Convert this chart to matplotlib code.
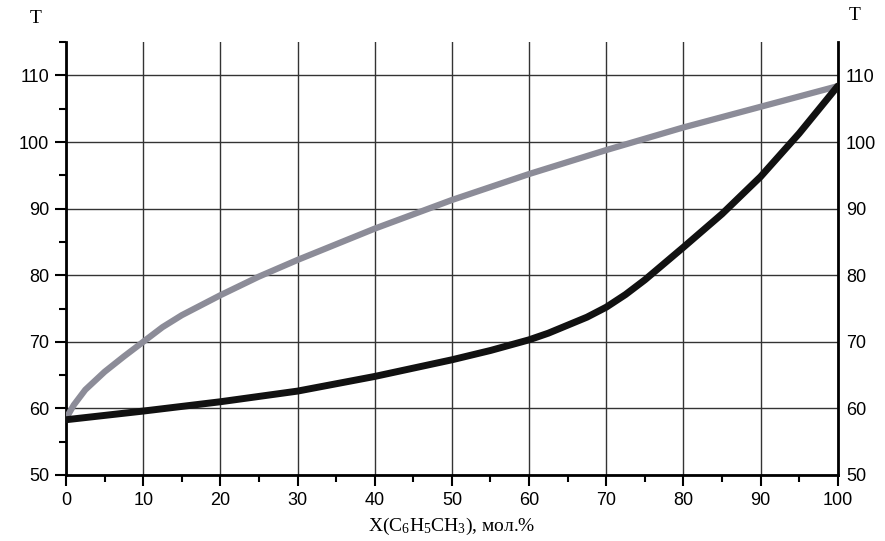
import numpy as np
import matplotlib.pyplot as plt
from matplotlib.ticker import MultipleLocator

plt.rcParams['mathtext.fontset'] = 'custom'
plt.rcParams['mathtext.rm'] = 'Liberation Serif'
plt.rcParams['mathtext.it'] = 'Liberation Serif'

# vapour curve (grey) and liquid curve (black)
x_vap = [0, 1, 2.5, 5, 7.5, 10, 12.5, 15, 20, 25, 30, 40, 50, 60, 70, 80, 90, 100]
t_vap = [58.5, 60.5, 62.8, 65.5, 67.8, 70.0, 72.2, 74.0, 77.0, 79.8, 82.3,
         87.0, 91.3, 95.2, 98.8, 102.2, 105.3, 108.4]
x_liq = [0, 10, 20, 30, 40, 50, 55, 60, 62.5, 65, 67.5, 70, 72.5, 75, 80,
         85, 90, 95, 100]
t_liq = [58.3, 59.6, 61.0, 62.6, 64.8, 67.3, 68.7, 70.3, 71.3, 72.5, 73.7,
         75.2, 77.1, 79.3, 84.2, 89.2, 94.8, 101.3, 108.4]

xticks = [0, 10, 20, 30, 40, 50, 60, 70, 80, 90, 100]
yticks = [50, 60, 70, 80, 90, 100, 110]

fig = plt.figure(figsize=(8.85, 5.41), dpi=100)
ax = fig.add_axes([0.0746, 0.122, 0.872, 0.80])

ax.plot(x_vap, t_vap, color='#8c8c98', lw=4.5, solid_capstyle='round',
        solid_joinstyle='round', zorder=3)
ax.plot(x_liq, t_liq, color='#111111', lw=5, solid_capstyle='round',
        solid_joinstyle='round', zorder=4)

ax.set_xlim(0, 100)
ax.set_ylim(50, 115)
ax.set_xticks(xticks)
ax.set_yticks(yticks)
ax.xaxis.set_minor_locator(MultipleLocator(5))
ax.yaxis.set_minor_locator(MultipleLocator(5))
ax.grid(True, which='major', color='#333333', lw=1.0)
ax.spines['top'].set_visible(False)
for s in ['left', 'right', 'bottom']:
    ax.spines[s].set_linewidth(2)
ax.tick_params(axis='both', which='major', direction='out', length=8, width=1.5,
               labelsize=13, pad=4)
ax.tick_params(axis='both', which='minor', direction='out', length=5, width=1.5)
for lab in ax.get_xticklabels() + ax.get_yticklabels():
    lab.set_fontfamily('Liberation Sans')

ax2 = ax.twinx()
ax2.set_ylim(ax.get_ylim())
ax2.set_yticks(yticks)
ax2.tick_params(axis='y', length=0, labelsize=13, pad=6)
for lab in ax2.get_yticklabels():
    lab.set_fontfamily('Liberation Sans')
for s in ax2.spines.values():
    s.set_visible(False)

fig.text(0.040, 0.965, 'T', fontfamily='Liberation Serif', fontsize=14,
         ha='center', va='center')
fig.text(0.966, 0.972, 'T', fontfamily='Liberation Serif', fontsize=14,
         ha='center', va='center')
ax.set_xlabel(r'X(C$_6$H$_5$CH$_3$), мол.%', fontfamily='Liberation Serif',
              fontsize=14, labelpad=5)

fig.savefig('out.png', dpi=100)
